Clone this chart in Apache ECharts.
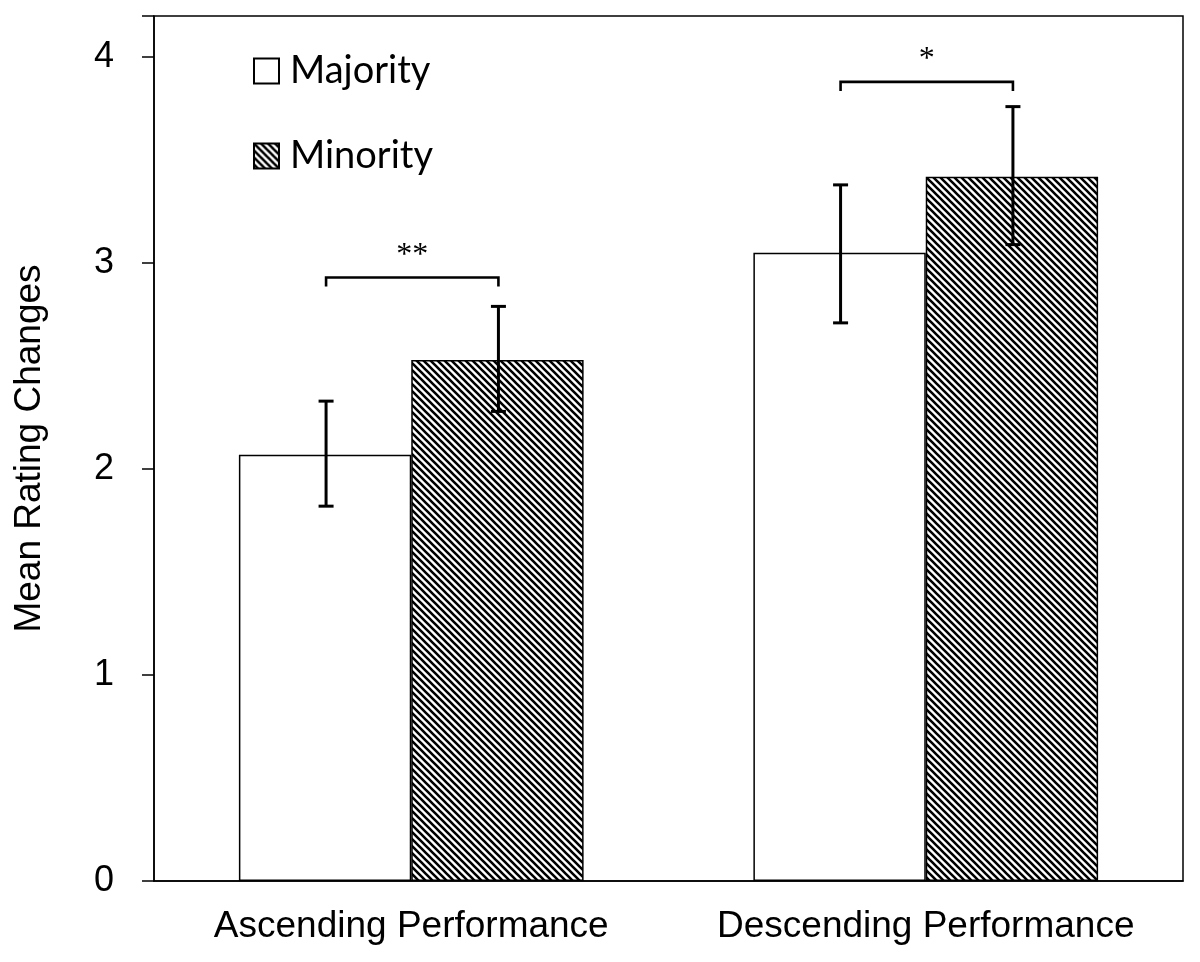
<!DOCTYPE html>
<html>
<head>
<meta charset="utf-8">
<script src="https://cdn.jsdelivr.net/npm/echarts@6/dist/echarts.min.js"></script>
<style>
html,body{margin:0;padding:0;background:#fff;}
#chart{width:1200px;height:962px;}
</style>
</head>
<body>
<div id="chart"></div>
<script>
// ---- data ----
var categories = ['Ascending Performance', 'Descending Performance'];
var seriesNames = ['Majority', 'Minority'];
var majorityMean = [2.07, 3.05];
var majorityLow = [1.82, 2.71];
var majorityHigh = [2.33, 3.38];
var minorityMean = [2.53, 3.42];
var minorityLow = [2.28, 3.09];
var minorityHigh = [2.79, 3.76];
var sigLevel = [2.93, 3.88];
var sigLabel = ['**', '*'];
var yTicks = [0, 1, 2, 3, 4];

// ---- hatch pattern ----
function makeHatch() {
  var s = 7;
  var c = document.createElement('canvas');
  c.width = s; c.height = s;
  var ctx = c.getContext('2d');
  ctx.fillStyle = '#fff';
  ctx.fillRect(0, 0, s, s);
  ctx.strokeStyle = '#000';
  ctx.lineWidth = 2.6;
  ctx.beginPath();
  ctx.moveTo(-2, -2); ctx.lineTo(s + 2, s + 2);
  ctx.moveTo(-2, s - 2); ctx.lineTo(2, s + 2);
  ctx.moveTo(s - 2, -2); ctx.lineTo(s + 2, 2);
  ctx.stroke();
  return c;
}
var hatch = { image: makeHatch(), repeat: 'repeat' };

var GAP = 0.33;
function barOffset(api, which) {
  var band = api.size([1, 0])[0];
  var bw = band * (1 - GAP) / 2;
  return which === 0 ? -bw / 2 : bw / 2;
}

function errorSeries(which, lows, highs) {
  return {
    type: 'custom',
    silent: true,
    z: 5,
    data: lows.map(function (l, i) { return [i, l, highs[i]]; }),
    renderItem: function (params, api) {
      var off = barOffset(api, which);
      var lo = api.coord([api.value(0), api.value(1)]);
      var hi = api.coord([api.value(0), api.value(2)]);
      var x = lo[0] + off + 1;
      var cap = 7.5;
      var st = { stroke: '#000', lineWidth: 3 };
      return {
        type: 'group',
        children: [
          { type: 'line', shape: { x1: x, y1: lo[1], x2: x, y2: hi[1] }, style: st },
          { type: 'line', shape: { x1: x - cap, y1: lo[1], x2: x + cap, y2: lo[1] }, style: st },
          { type: 'line', shape: { x1: x - cap, y1: hi[1], x2: x + cap, y2: hi[1] }, style: st }
        ]
      };
    }
  };
}

var chart = echarts.init(document.getElementById('chart'));
chart.setOption({
  animation: false,
  backgroundColor: '#fff',
  grid: { left: 154, right: 17, top: 16, bottom: 81, show: true, borderColor: '#000', borderWidth: 1.5, backgroundColor: 'transparent' },
  legend: {
    data: seriesNames,
    orient: 'vertical',
    left: 248,
    top: 47,
    itemWidth: 25,
    itemHeight: 25,
    itemGap: 47,
    icon: 'rect',
    textStyle: { fontFamily: 'Lato', fontSize: 38, color: '#000', lineHeight: 25, padding: [0, 0, 0, 6] }
  },
  xAxis: {
    type: 'category',
    data: categories,
    axisLine: { lineStyle: { color: '#000', width: 1.5 } },
    axisTick: { show: false },
    axisLabel: { color: '#000', fontFamily: 'Liberation Sans', fontSize: 37, margin: 27, interval: 0, hideOverlap: false }
  },
  yAxis: {
    type: 'value',
    min: 0,
    max: 4.2,
    interval: 1,
    name: 'Mean Rating Changes',
    nameLocation: 'middle',
    nameGap: 106,
    nameTextStyle: { color: '#000', fontFamily: 'Liberation Sans', fontSize: 37 },
    axisLine: { show: true, lineStyle: { color: '#000', width: 1.5 } },
    axisTick: { show: true, length: 12, lineStyle: { color: '#000', width: 1.5 } },
    axisLabel: {
      color: '#000', fontFamily: 'Liberation Sans', fontSize: 36, margin: 40,
      formatter: function (v) { return yTicks.indexOf(v) >= 0 ? String(v) : ''; }
    },
    splitLine: { show: false }
  },
  series: [
    {
      name: seriesNames[0], type: 'bar', data: majorityMean,
      barGap: '0%', barCategoryGap: '33%',
      itemStyle: { color: '#fff', borderColor: '#000', borderWidth: 1.5 }
    },
    {
      name: seriesNames[1], type: 'bar', data: minorityMean,
      barGap: '0%', barCategoryGap: '33%',
      itemStyle: { color: hatch, borderColor: '#000', borderWidth: 1.5 }
    },
    errorSeries(0, majorityLow, majorityHigh),
    errorSeries(1, minorityLow, minorityHigh),
    {
      type: 'custom',
      silent: true,
      z: 6,
      data: sigLevel.map(function (v, i) { return [i, v]; }),
      renderItem: function (params, api) {
        var p = api.coord([api.value(0), api.value(1)]);
        var x1 = p[0] + barOffset(api, 0) + 1;
        var x2 = p[0] + barOffset(api, 1) + 1;
        var y = p[1];
        var st = { stroke: '#000', lineWidth: 2.6, fill: null };
        return {
          type: 'group',
          children: [
            { type: 'polyline', shape: { points: [[x1, y + 9], [x1, y], [x2, y], [x2, y + 9]] }, style: st },
            { type: 'text', style: { text: sigLabel[params.dataIndex], x: (x1 + x2) / 2, y: y - 22, align: 'center', verticalAlign: 'middle', fill: '#000', font: '32px "Liberation Serif"' } }
          ]
        };
      }
    }
  ]
});
</script>
</body>
</html>
